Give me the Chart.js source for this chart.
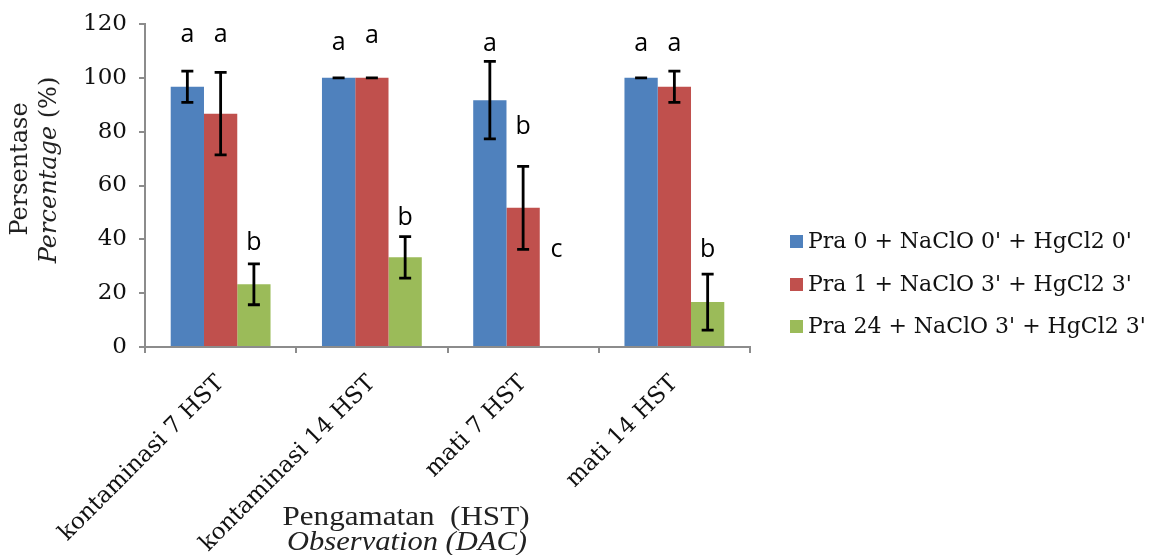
<!DOCTYPE html>
<html>
<head>
<meta charset="utf-8">
<script src="https://cdn.jsdelivr.net/npm/chart.js@4"></script>
<style>
  html, body { margin: 0; padding: 0; background: #fff; }
  #wrap { width: 1153px; height: 555px; position: relative; }
</style>
</head>
<body>
<div id="wrap"><canvas id="c" width="1153" height="555"></canvas></div>
<script>
const categories = ['kontaminasi 7 HST', 'kontaminasi 14 HST', 'mati 7 HST', 'mati 14 HST'];
const seriesNames = ["Pra 0 + NaClO 0' + HgCl2 0'", "Pra 1 + NaClO 3' + HgCl2 3'", "Pra 24 + NaClO 3' + HgCl2 3'"];
const pra0 = [96.7, 100, 91.7, 100];
const pra1 = [86.7, 100, 51.7, 96.7];
const pra24 = [23.3, 33.3, 0, 16.7];
const err0 = [5.8, 0, 14.4, 0];
const err1 = [15.3, 0, 15.4, 5.8];
const err24 = [7.6, 7.7, 0, 10.4];
const letters0 = ['a', 'a', 'a', 'a'];
const letters1 = ['a', 'a', 'b', 'a'];
const letters24 = ['b', 'b', 'c', 'b'];
const letterY0 = [115.9, 112.9, 112.5, 112.5];
const letterY1 = [115.9, 115.5, 81.7, 112.5];
const letterY24 = [38.6, 47.9, 36.0, 36.0];
const yTickValues = [0, 20, 40, 60, 80, 100, 120];
const yTitle1 = 'Persentase';
const yTitle2Italic = 'Percentage';
const yTitle2Rest = ' (%)';
const xTitle1 = 'Pengamatan  (HST)';
const xTitle2 = 'Observation (DAC)';

const colors = ['#4F81BD', '#C0504D', '#9BBB59'];
const seriesValues = [pra0, pra1, pra24];
const seriesErr = [err0, err1, err24];
const seriesLetters = [letters0, letters1, letters24];
const seriesLetterY = [letterY0, letterY1, letterY24];

const AXIS = '#8c8c8c';
const SERIF = '"DejaVu Serif", serif';

function fitText(ctx, text, cx, cy, targetW) {
  const w = ctx.measureText(text).width;
  ctx.save();
  ctx.translate(cx, cy);
  ctx.scale(targetW / w, 1);
  ctx.textAlign = 'center';
  ctx.fillText(text, 0, 0);
  ctx.restore();
}

const overlay = {
  id: 'overlay',
  afterDatasetsDraw(chart) {
    const ctx = chart.ctx;
    const y = chart.scales.y;
    ctx.save();
    ctx.strokeStyle = '#000';
    ctx.lineWidth = 2.8;
    chart.data.datasets.forEach((ds, i) => {
      const meta = chart.getDatasetMeta(i);
      meta.data.forEach((bar, j) => {
        const v = seriesValues[i][j], e = seriesErr[i][j];
        if (v === 0) return;
        const x = bar.x;
        const yt = y.getPixelForValue(v + e), yb = y.getPixelForValue(v - e);
        ctx.beginPath();
        ctx.moveTo(x, yt); ctx.lineTo(x, yb);
        ctx.moveTo(x - 6, yt); ctx.lineTo(x + 6, yt);
        ctx.moveTo(x - 6, yb); ctx.lineTo(x + 6, yb);
        ctx.stroke();
      });
    });
    ctx.fillStyle = '#000';
    ctx.font = '25px "Open Sans", sans-serif';
    ctx.textAlign = 'center';
    ctx.textBaseline = 'middle';
    chart.data.datasets.forEach((ds, i) => {
      const meta = chart.getDatasetMeta(i);
      meta.data.forEach((bar, j) => {
        ctx.fillText(seriesLetters[i][j], bar.x, y.getPixelForValue(seriesLetterY[i][j]));
      });
    });
    ctx.restore();
  },
  afterDraw(chart) {
    const ctx = chart.ctx;
    ctx.save();
    ctx.fillStyle = '#222';
    ctx.save();
    ctx.translate(21, 169);
    ctx.rotate(-Math.PI / 2);
    ctx.textAlign = 'center';
    ctx.textBaseline = 'middle';
    ctx.font = '24px ' + SERIF;
    ctx.fillText(yTitle1, 0, 0);
    ctx.restore();
    ctx.save();
    ctx.translate(50, 170);
    ctx.rotate(-Math.PI / 2);
    ctx.textBaseline = 'middle';
    ctx.textAlign = 'left';
    ctx.font = 'italic 24px ' + SERIF;
    const w1 = ctx.measureText(yTitle2Italic).width;
    ctx.font = '24px ' + SERIF;
    const w2 = ctx.measureText(yTitle2Rest).width;
    const sx = -(w1 + w2) / 2;
    ctx.font = 'italic 24px ' + SERIF;
    ctx.fillText(yTitle2Italic, sx, 0);
    ctx.font = '24px ' + SERIF;
    ctx.fillText(yTitle2Rest, sx + w1, 0);
    ctx.restore();
    ctx.textBaseline = 'middle';
    ctx.font = '27px "Liberation Serif", serif';
    fitText(ctx, xTitle1, 406, 518, 247);
    ctx.font = 'italic 27px "Liberation Serif", serif';
    fitText(ctx, xTitle2, 407, 543, 240);
    ctx.font = '22px ' + SERIF;
    ctx.textAlign = 'left';
    const rows = [241, 284, 326];
    chart.data.datasets.forEach((ds, i) => {
      ctx.fillStyle = ds.backgroundColor;
      ctx.fillRect(790, rows[i] - 6, 13, 13);
      ctx.fillStyle = '#111';
      ctx.fillText(ds.label, 808, rows[i] + 1);
    });
    ctx.restore();
  }
};

new Chart(document.getElementById('c'), {
  type: 'bar',
  data: {
    labels: categories,
    datasets: seriesNames.map((n, i) => ({
      label: n,
      data: seriesValues[i],
      backgroundColor: colors[i],
      barPercentage: 1,
      categoryPercentage: 0.66
    }))
  },
  options: {
    responsive: false,
    animation: false,
    layout: { padding: { left: 0, top: 24, right: 403, bottom: 0 } },
    plugins: { legend: { display: false }, tooltip: { enabled: false } },
    scales: {
      x: {
        grid: { display: true, drawOnChartArea: false, drawTicks: true, tickLength: 6, color: AXIS, lineWidth: 2 },
        border: { color: AXIS, width: 2 },
        ticks: {
          maxRotation: 45, minRotation: 45, color: '#111',
          font: { family: 'DejaVu Serif', size: 23 }, padding: 17
        },
        afterFit(s) { s.height = 208; }
      },
      y: {
        min: 0, max: 120,
        afterBuildTicks(s) { s.ticks = yTickValues.map(v => ({ value: v })); },
        grid: { display: true, drawOnChartArea: false, drawTicks: true, tickLength: 6, color: AXIS, lineWidth: 2 },
        border: { color: AXIS, width: 2 },
        ticks: { color: '#111', font: { family: 'DejaVu Serif', size: 23 }, padding: 12 },
        afterFit(s) { s.width = 145; s.paddingTop = 0; s.paddingBottom = 0; }
      }
    }
  },
  plugins: [overlay]
});
</script>
</body>
</html>
